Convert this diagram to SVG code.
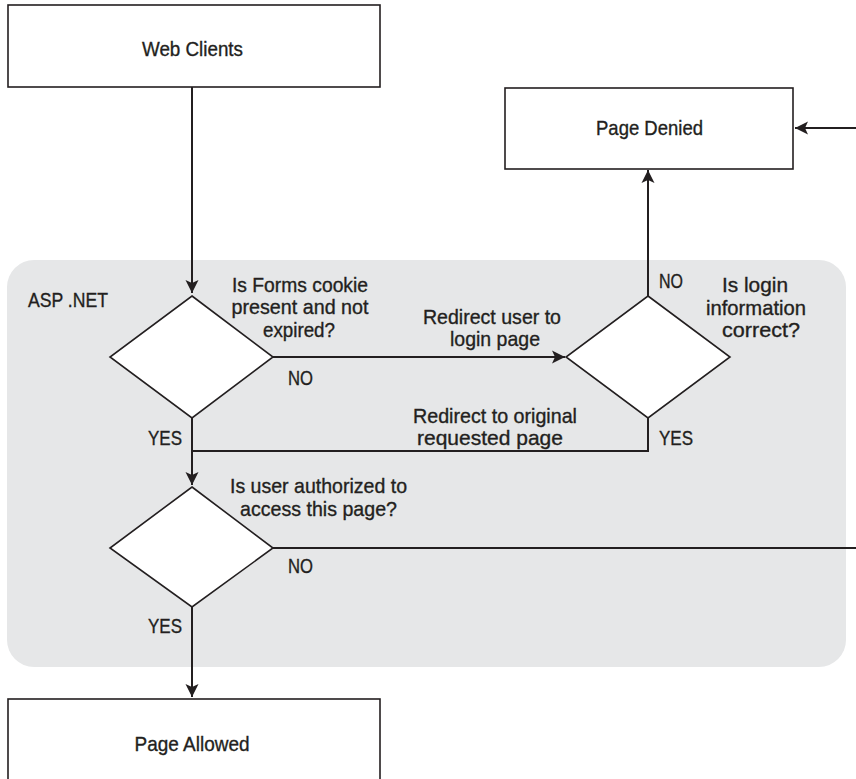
<svg xmlns="http://www.w3.org/2000/svg" width="856" height="779" viewBox="0 0 856 779">
  <style>
    .box { fill: #ffffff; stroke: #231f20; stroke-width: 1.6; }
    .dia { fill: #ffffff; stroke: #231f20; stroke-width: 1.6; }
    .region { fill: #e6e7e8; stroke: none; }
    .conn { fill: none; stroke: #231f20; stroke-width: 2; }
    .arr { marker-end: url(#ah); }
    text { font-family: "Liberation Sans Narrow", "Liberation Sans", Arial, sans-serif; font-size: 21px; fill: #231f20; stroke: #231f20; stroke-width: 0.35; }
    .c { text-anchor: middle; }
  </style>
  <defs>
    <marker id="ah" viewBox="-14 -7 15 14" refX="0" refY="0" markerWidth="15" markerHeight="14" markerUnits="userSpaceOnUse" orient="auto">
      <path d="M0,0 L-13,-6.5 L-10,0 L-13,6.5 Z" fill="#231f20"/>
    </marker>
  </defs>

  <g id="asp-net">
    <rect class="region" x="7" y="260" width="839" height="407" rx="27" ry="27"/>
    <text x="28" y="307" textLength="80" lengthAdjust="spacingAndGlyphs">ASP .NET</text>
  </g>

  <g id="web-clients">
    <rect class="box" x="8" y="5" width="372" height="82"/>
    <text class="c" x="192.5" y="56" textLength="101" lengthAdjust="spacingAndGlyphs">Web Clients</text>
  </g>

  <g id="page-denied">
    <rect class="box" x="505" y="88" width="288" height="81"/>
    <text class="c" x="649.5" y="135" textLength="107" lengthAdjust="spacingAndGlyphs">Page Denied</text>
  </g>

  <g id="page-allowed">
    <rect class="box" x="8" y="699" width="372" height="100"/>
    <text class="c" x="192" y="751" textLength="115" lengthAdjust="spacingAndGlyphs">Page Allowed</text>
  </g>

  <g id="d-cookie">
    <polygon class="dia" points="192,296 273,357 192,418 110,357"/>
    <text class="c" x="300" y="292" textLength="136" lengthAdjust="spacingAndGlyphs">Is Forms cookie</text>
    <text class="c" x="300" y="314" textLength="137" lengthAdjust="spacingAndGlyphs">present and not</text>
    <text class="c" x="299" y="337" textLength="72" lengthAdjust="spacingAndGlyphs">expired?</text>
  </g>

  <g id="d-login">
    <polygon class="dia" points="648,296 730,357 648,418 566,357"/>
    <text class="c" x="755" y="292" textLength="66" lengthAdjust="spacingAndGlyphs">Is login</text>
    <text class="c" x="756" y="315" textLength="100" lengthAdjust="spacingAndGlyphs">information</text>
    <text class="c" x="761" y="337" textLength="78" lengthAdjust="spacingAndGlyphs">correct?</text>
  </g>

  <g id="d-authorized">
    <polygon class="dia" points="192,487 273,548 192,607 110,548"/>
    <text class="c" x="318.5" y="493" textLength="177" lengthAdjust="spacingAndGlyphs">Is user authorized to</text>
    <text class="c" x="318.5" y="516" textLength="157" lengthAdjust="spacingAndGlyphs">access this page?</text>
  </g>

  <g id="connectors">
    <path class="conn arr" d="M192,87 L192,293"/>
    <path class="conn arr" d="M273,357 L565,357"/>
    <path class="conn arr" d="M648,296 L648,170"/>
    <path class="conn" d="M648,418 L648,451 L192,451"/>
    <path class="conn arr" d="M192,418 L192,485"/>
    <path class="conn" d="M273,548 L856,548"/>
    <path class="conn arr" d="M856,128 L795,128"/>
    <path class="conn arr" d="M192,607 L192,697"/>

    <text x="288" y="385" textLength="25" lengthAdjust="spacingAndGlyphs">NO</text>
    <text class="c" x="492" y="324" textLength="138" lengthAdjust="spacingAndGlyphs">Redirect user to</text>
    <text class="c" x="495" y="346" textLength="90" lengthAdjust="spacingAndGlyphs">login page</text>
    <text x="659" y="288" textLength="24" lengthAdjust="spacingAndGlyphs">NO</text>
    <text x="659" y="445" textLength="34" lengthAdjust="spacingAndGlyphs">YES</text>
    <text class="c" x="495" y="423" textLength="164" lengthAdjust="spacingAndGlyphs">Redirect to original</text>
    <text class="c" x="490" y="445" textLength="146" lengthAdjust="spacingAndGlyphs">requested page</text>
    <text x="148" y="445" textLength="34" lengthAdjust="spacingAndGlyphs">YES</text>
    <text x="288" y="573" textLength="25" lengthAdjust="spacingAndGlyphs">NO</text>
    <text x="148" y="633" textLength="34" lengthAdjust="spacingAndGlyphs">YES</text>
  </g>
</svg>
